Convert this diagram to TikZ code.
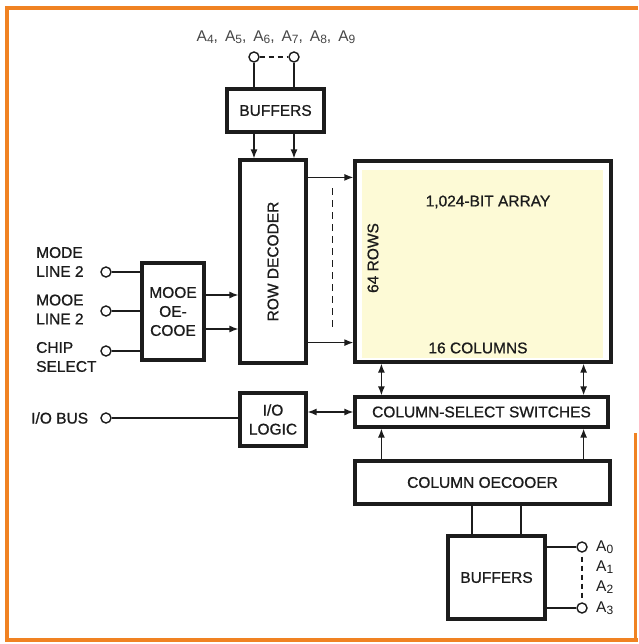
\documentclass[tikz,border=0pt]{standalone}
\usepackage{fontspec}
\setmainfont{Liberation Sans}
\newfontfamily\diagfam{Liberation Sans}[FakeBold=0.9]
\usetikzlibrary{positioning,arrows.meta,calc}
\definecolor{frameorange}{RGB}{240,130,34}
\definecolor{arrayfill}{RGB}{253,250,214}
\definecolor{ink}{RGB}{28,28,28}
\newcommand{\diagfont}{\diagfam\fontsize{15.5}{19}\selectfont}
\newcommand{\addr}[1]{A\raisebox{-2.5pt}{\fontsize{12}{12}\selectfont #1}}
\tikzset{
  blk/.style={draw=ink,line width=3.2pt,align=center,inner sep=0pt,
              font=\diagfont,text=ink},
  term/.style={circle,draw=ink,line width=1.4pt,fill=white,inner sep=0pt,
               minimum size=10pt},
  wire/.style={draw=ink,line width=1.4pt},
  dashwire/.style={wire,dash pattern=on 5pt off 4pt},
  sig/.style={wire,-{Latex[length=9pt,width=7pt]}},
  bisig/.style={wire,{Latex[length=9pt,width=7pt]}-{Latex[length=9pt,width=7pt]}},
  lbl/.style={text=ink,align=left,inner sep=0pt,font=\diagfont},
}
\begin{document}
\begin{tikzpicture}[x=1pt,y=-1pt]
  \useasboundingbox (0,0) rectangle (638,644);
  \fill[white] (0,0) rectangle (638,644);
  \draw[frameorange,line width=4pt] (638,8) -- (7,8) -- (7,640) -- (638,640);
  \draw[frameorange,line width=3pt] (635,433) -- (635,640);

  % blocks
  \node[blk,minimum width=97pt,minimum height=43pt] (topbuf) at (275.5,110.5) {BUFFERS};
  \node[blk,minimum width=66pt,minimum height=203pt] (rowdec) at (273,261.5) {\rotatebox{90}{ROW DECODER}};
  \node[blk,minimum width=256pt,minimum height=201pt] (array) at (483,261.5) {};
  \fill[arrayfill] ([xshift=9pt,yshift=-11pt]array.north west) rectangle ([xshift=-10pt,yshift=6pt]array.south east);
  \node[lbl] (arrtitle) at (488,202) {1,024-BIT ARRAY};
  \node[lbl,rotate=90] (rows) at (373,258) {64 ROWS};
  \node[lbl] (cols) at (478,348) {16 COLUMNS};
  \node[blk,minimum width=62pt,minimum height=97pt] (modedec) at (173,311.5) {MOOE\\OE-\\COOE};
  \node[blk,minimum width=66pt,minimum height=53pt] (iologic) at (273,419.5) {I/O\\LOGIC};
  \node[blk,minimum width=253pt,minimum height=30pt] (colsel) at (481.5,412) {COLUMN-SELECT SWITCHES};
  \node[blk,minimum width=255pt,minimum height=43pt] (coldec) at (482.5,482.5) {COLUMN OECOOER};
  \node[blk,minimum width=97pt,minimum height=83pt] (botbuf) at (496.5,577.5) {BUFFERS};

  % terminals
  \node[term] (t4) at (254,57) {};
  \node[term] (t9) at (294,57) {};
  \node[inner sep=0pt,text=black!72,font=\fontsize{15.5}{19}\selectfont] (toplbl) at (276,37)
    {\addr{4},\hspace{7pt}\addr{5},\hspace{7pt}\addr{6},\hspace{7pt}\addr{7},\hspace{7pt}\addr{8},\hspace{7pt}\addr{9}};
  \node[term] (ml1) at (106,272) {};
  \node[term] (ml2) at (106,311) {};
  \node[term] (csel) at (106,351) {};
  \node[term] (iobus) at (106,418) {};
  \node[lbl,anchor=west] (ml1lbl) at (36,262) {MODE\\LINE 2};
  \node[lbl,anchor=west] (ml2lbl) at (36,309.5) {MOOE\\LINE 2};
  \node[lbl,anchor=west] (csellbl) at (36,357) {CHIP\\SELECT};
  \node[lbl,left=12pt of iobus] (iobuslbl) {I/O BUS};
  \node[term] (a0) at (582,547) {};
  \node[term] (a3) at (582,608) {};
  \node[anchor=west,inner sep=0pt,text=ink,font=\fontsize{15.5}{19}\selectfont] (a0lbl) at ([xshift=14pt]a0.center) {\addr{0}};
  \node[anchor=west,inner sep=0pt,text=ink,font=\fontsize{15.5}{19}\selectfont] (a1lbl) at ($(a0)!0.33!(a3)+(14,0)$) {\addr{1}};
  \node[anchor=west,inner sep=0pt,text=ink,font=\fontsize{15.5}{19}\selectfont] (a2lbl) at ($(a0)!0.66!(a3)+(14,0)$) {\addr{2}};
  \node[anchor=west,inner sep=0pt,text=ink,font=\fontsize{15.5}{19}\selectfont] (a3lbl) at ([xshift=14pt]a3.center) {\addr{3}};

  % row address path
  \draw[dashwire] (t4.east) -- (t9.west);
  \draw[wire] (t4.south) -- (t4 |- topbuf.north);
  \draw[wire] (t9.south) -- (t9 |- topbuf.north);
  \draw[sig] (t4 |- topbuf.south) -- (t4 |- rowdec.north);
  \draw[sig] (t9 |- topbuf.south) -- (t9 |- rowdec.north);
  \coordinate (r1) at ([yshift=-19pt]rowdec.north east);
  \coordinate (r2) at ([yshift=22pt]rowdec.south east);
  \draw[sig] (r1) -- (r1 -| array.west);
  \draw[sig] (r2) -- (r2 -| array.west);
  \path (r1) -- (r1 -| array.west) coordinate[pos=0.55] (dtop);
  \path (r2) -- (r2 -| array.west) coordinate[pos=0.55] (dbot);
  \draw[wire,dash pattern=on 7pt off 5pt] ([yshift=-11pt]dtop) -- ([yshift=11pt]dbot);

  % mode decode
  \draw[wire] (ml1.east) -- (ml1 -| modedec.west);
  \draw[wire] (ml2.east) -- (ml2 -| modedec.west);
  \draw[wire] (csel.east) -- (csel -| modedec.west);
  \coordinate (m1) at ([yshift=16.5pt]modedec.east);
  \coordinate (m2) at ([yshift=-17.5pt]modedec.east);
  \draw[sig] (m1) -- (m1 -| rowdec.west);
  \draw[sig] (m2) -- (m2 -| rowdec.west);

  % data path
  \draw[wire] (iobus.east) -- (iobus -| iologic.west);
  \draw[bisig] (colsel.west -| iologic.east) -- (colsel.west);
  \coordinate (c1) at ([xshift=28pt]array.south west);
  \coordinate (c2) at ([xshift=-29pt]array.south east);
  \draw[bisig] (c1) -- (c1 |- colsel.north);
  \draw[bisig] (c2) -- (c2 |- colsel.north);
  \draw[sig] (c1 |- coldec.north) -- (c1 |- colsel.south);
  \draw[sig] (c2 |- coldec.north) -- (c2 |- colsel.south);

  % column address path
  \coordinate (b1) at ([xshift=-24.5pt]botbuf.north);
  \coordinate (b2) at ([xshift=24.5pt]botbuf.north);
  \draw[wire] (b1) -- (b1 |- coldec.south);
  \draw[wire] (b2) -- (b2 |- coldec.south);
  \draw[wire] (a0.west) -- (a0 -| botbuf.east);
  \draw[wire] (a3.west) -- (a3 -| botbuf.east);
  \draw[dashwire,shorten <=4pt,shorten >=4pt] (a0.south) -- (a3.north);
\end{tikzpicture}
\end{document}
